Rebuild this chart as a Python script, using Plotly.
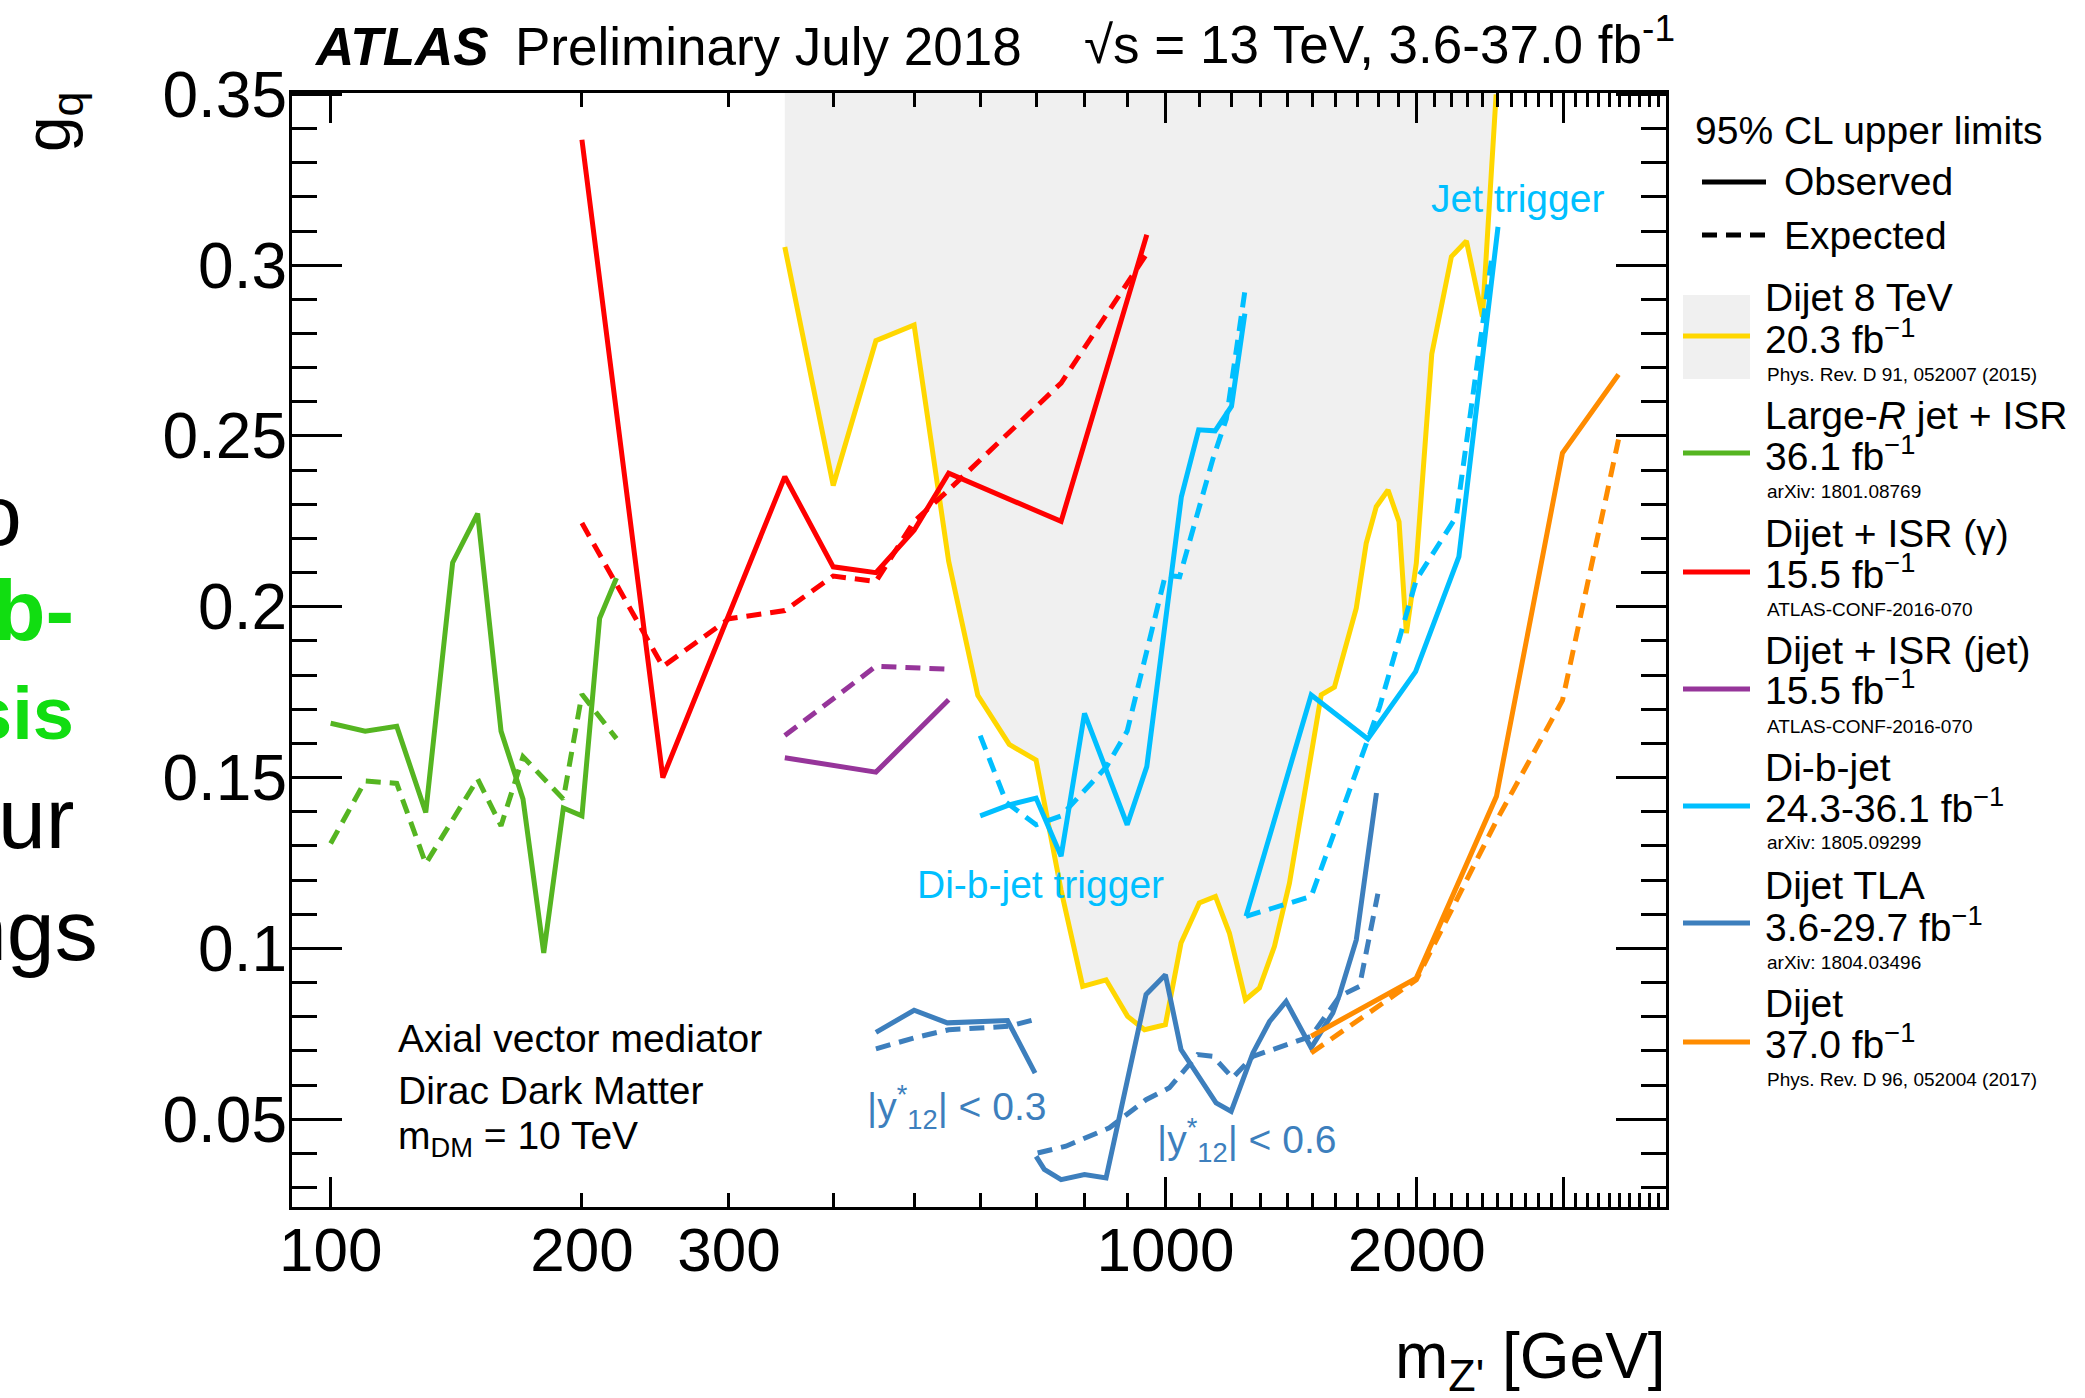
import plotly.graph_objects as go

# ------------------------------------------------------------------ data
# Dijet 8 TeV (observed, with excluded region above it)
dijet8_m = [350, 400, 450, 500, 550, 596, 650, 700, 750, 796,
            849, 901, 944, 1000, 1044, 1098, 1148, 1193, 1247, 1296,
            1351, 1408, 1537, 1594, 1693, 1740, 1789, 1848, 1905, 1944,
            1998, 2085, 2201, 2294, 2398, 2490]
dijet8_obs = [0.3053, 0.2355, 0.2779, 0.2825, 0.2133, 0.1741, 0.1597, 0.1551, 0.1170, 0.0889,
              0.0908, 0.0801, 0.0762, 0.0777, 0.1016, 0.1133, 0.1152, 0.1045, 0.0850, 0.0884,
              0.1006, 0.1191, 0.1742, 0.1765, 0.1996, 0.2186, 0.2293, 0.2342, 0.2249, 0.1923,
              0.2128, 0.2740, 0.3025, 0.3071, 0.2849, 0.3500]

# Large-R jet + ISR
lrj_m = [100, 110, 120, 130, 140, 150, 160, 170, 180, 190, 200, 210, 220]
lrj_obs = [0.1659, 0.1636, 0.1650, 0.1398, 0.2129, 0.2273, 0.1636, 0.1437, 0.0987, 0.1411, 0.1388, 0.1966, 0.2084]
lrj_exp_m = [100, 110, 120, 130, 150, 160, 170, 190, 200, 220]
lrj_exp = [0.1307, 0.1490, 0.1483, 0.1248, 0.1496, 0.1359, 0.1561, 0.1437, 0.1744, 0.1614]

# Dijet + ISR (gamma)
isrg_m = [200, 250, 350, 400, 450, 500, 550, 750, 950]
isrg_obs = [0.3367, 0.1500, 0.2381, 0.2117, 0.2100, 0.2224, 0.2391, 0.2250, 0.3089]
isrg_exp_m = [200, 250, 300, 350, 400, 450, 500, 550, 750, 950]
isrg_exp = [0.2245, 0.1825, 0.1965, 0.1989, 0.2090, 0.2074, 0.2250, 0.2342, 0.2655, 0.3034]

# Dijet + ISR (jet)
isrj_m = [350, 450, 550]
isrj_obs = [0.1558, 0.1516, 0.1728]
isrj_exp = [0.1623, 0.1826, 0.1817]

# Di-b-jet, di-b-jet trigger
bbl_m = [600, 650, 700, 750, 800, 900, 950, 1045, 1096, 1147, 1200, 1245]
bbl_obs = [0.1388, 0.1420, 0.1440, 0.1270, 0.1688, 0.1362, 0.1532, 0.2322, 0.2518, 0.2515, 0.2587, 0.2858]
bbl_exp_m = [600, 645, 700, 750, 850, 900, 1000, 1040, 1140, 1183, 1245]
bbl_exp = [0.1623, 0.1427, 0.1362, 0.1388, 0.1532, 0.1636, 0.2093, 0.2088, 0.2433, 0.2550, 0.2923]

# Di-b-jet, jet trigger
bbh_m = [1249, 1495, 1748, 1994, 2247, 2503]
bbh_obs = [0.1094, 0.1742, 0.1613, 0.1810, 0.2147, 0.3112]
bbh_exp_m = [1249, 1495, 1806, 1998, 2231, 2458]
bbh_exp = [0.1094, 0.1152, 0.1708, 0.2079, 0.2264, 0.3015]

# Dijet TLA |y*12| < 0.3
tla03_m = [450, 500, 548, 647, 698]
tla03_obs = [0.0754, 0.0819, 0.0782, 0.0789, 0.0635]
tla03_exp_m = [450, 500, 550, 650, 700]
tla03_exp = [0.0706, 0.0738, 0.0762, 0.0772, 0.0793]

# Dijet TLA |y*12| < 0.6
tla06_m = [700, 716, 750, 800, 849, 948, 1000, 1044, 1150, 1199, 1273, 1333, 1395, 1495, 1587, 1617, 1693, 1790]
tla06_obs = [0.0391, 0.0353, 0.0323, 0.0338, 0.0328, 0.0865, 0.0923, 0.0704, 0.0548, 0.0523,
             0.0694, 0.0786, 0.0845, 0.0709, 0.0811, 0.0865, 0.1025, 0.1455]
tla06_exp_m = [703, 760, 857, 948, 1011, 1093, 1140, 1204, 1273, 1495, 1617, 1708, 1797]
tla06_exp = [0.0401, 0.0421, 0.0475, 0.0557, 0.0592, 0.0689, 0.0684, 0.0621, 0.0684, 0.0743, 0.0860, 0.0889, 0.1160]

# Dijet 37 fb-1
dijet_m = [1495, 1998, 2492, 2990, 3490]
dijet_obs = [0.0743, 0.0913, 0.1445, 0.2450, 0.2680]
dijet_exp_m = [1495, 1998, 2500, 2990, 3490]
dijet_exp = [0.0694, 0.0908, 0.1380, 0.1726, 0.2490]

x_label_vals = [100, 200, 300, 1000, 2000]
x_label_text = ["100", "200", "300", "1000", "2000"]
y_tick_vals = [0.05, 0.1, 0.15, 0.2, 0.25, 0.3, 0.35]
y_tick_text = ["0.05", "0.1", "0.15", "0.2", "0.25", "0.3", "0.35"]

# ------------------------------------------------------------------ style
FONT = "Liberation Sans, Arial, Helvetica, sans-serif"
X_RANGE = [1.9537, 3.5997]
Y_RANGE = [0.0243, 0.3504]
C = dict(yellow="#FFD700", green="#55B521", red="#FF0000", purple="#96359A",
         sky="#00BFFF", steel="#3D7FBD", orange="#FF8C00", grey="#F0F0F0")
LW = 5
DASH = "15px,9px"

L, R, T, B = 292, 1666, 93, 1207


def px(x):
    return (x - L) / (R - L)


def py(y):
    return (B - y) / (B - T)


fig = go.Figure()

# excluded region (Dijet 8 TeV)
fig.add_trace(go.Scatter(
    x=[dijet8_m[0]] + dijet8_m + [dijet8_m[-1]],
    y=[Y_RANGE[1]] + dijet8_obs + [Y_RANGE[1]],
    mode="lines", fill="toself", fillcolor=C["grey"], line=dict(width=0),
    hoverinfo="skip", showlegend=False))


def curve(x, y, color, dash=False):
    fig.add_trace(go.Scatter(
        x=x, y=y, mode="lines",
        line=dict(color=color, width=LW, dash=DASH if dash else "solid"),
        hoverinfo="skip", showlegend=False))


curve(dijet8_m, dijet8_obs, C["yellow"])
curve(lrj_exp_m, lrj_exp, C["green"], True)
curve(lrj_m, lrj_obs, C["green"])
curve(isrg_exp_m, isrg_exp, C["red"], True)
curve(isrg_m, isrg_obs, C["red"])
curve(isrj_m, isrj_exp, C["purple"], True)
curve(isrj_m, isrj_obs, C["purple"])
curve(bbl_exp_m, bbl_exp, C["sky"], True)
curve(bbl_m, bbl_obs, C["sky"])
curve(bbh_exp_m, bbh_exp, C["sky"], True)
curve(bbh_m, bbh_obs, C["sky"])
curve(tla03_exp_m, tla03_exp, C["steel"], True)
curve(tla03_m, tla03_obs, C["steel"])
curve(tla06_exp_m, tla06_exp, C["steel"], True)
curve(tla06_m, tla06_obs, C["steel"])
curve(dijet_exp_m, dijet_exp, C["orange"], True)
curve(dijet_m, dijet_obs, C["orange"])

# invisible traces carrying the label axes
fig.add_trace(go.Scatter(x=[200], y=[0.3], xaxis="x2", yaxis="y", mode="markers",
                         marker=dict(opacity=0), hoverinfo="skip", showlegend=False))
fig.add_trace(go.Scatter(x=[200], y=[0.3], xaxis="x", yaxis="y2", mode="markers",
                         marker=dict(opacity=0), hoverinfo="skip", showlegend=False))

minor_x = sorted(set([v for v in range(200, 1000, 100)] +
                     [v for v in range(1100, 4000, 100) if v % 1000 != 0]))
minor_y = [round(0.01 * k, 2) for k in range(3, 36) if k % 5 != 0]

axis_common = dict(showgrid=False, zeroline=False, showline=True, linewidth=3,
                   linecolor="black", mirror="ticks", ticks="inside",
                   tickcolor="black", tickwidth=3, showticklabels=False)
label_axis = dict(ticks="", showline=False, showgrid=False, zeroline=False)

fig.update_layout(
    width=2085, height=1398,
    margin=dict(l=L, r=2085 - R, t=T, b=1398 - B, pad=0),
    paper_bgcolor="white", plot_bgcolor="white", showlegend=False,
    font=dict(family=FONT, color="black"),
    xaxis=dict(type="log", range=X_RANGE, tickvals=[100, 1000, 2000, 3000], ticklen=30,
               minor=dict(tickvals=minor_x, ticks="inside", ticklen=14,
                          tickwidth=2.5, tickcolor="black", showgrid=False),
               **axis_common),
    xaxis2=dict(type="log", range=X_RANGE, overlaying="x", anchor="y", side="bottom",
                tickvals=x_label_vals, ticktext=x_label_text,
                tickfont=dict(size=62), ticklabelstandoff=1, **label_axis),
    yaxis=dict(range=Y_RANGE, tickvals=y_tick_vals, ticklen=50,
               minor=dict(tickvals=minor_y, ticks="inside", ticklen=25,
                          tickwidth=2.5, tickcolor="black", showgrid=False),
               **axis_common),
    yaxis2=dict(range=Y_RANGE, overlaying="y", anchor="x", side="left",
                tickvals=y_tick_vals, ticktext=y_tick_text,
                tickfont=dict(size=64), ticklabelstandoff=4, **label_axis),
)

annotations = []


def ann(text, x, y, size, color="black", xanchor="left", yanchor="middle", **kw):
    annotations.append(dict(text=text, x=px(x), y=py(y), xref="paper", yref="paper",
                            xanchor=xanchor, yanchor=yanchor, showarrow=False,
                            font=dict(family=FONT, size=size, color=color), **kw))


# header
ann("<b><i>ATLAS</i></b>", 312, 46, 53)
ann("Preliminary July 2018", 513, 46, 53)
ann("√s = 13 TeV, 3.6-37.0 fb<sup>-1</sup>", 1082, 40, 53)

# axis titles
ann("g<sub>q</sub>", 52, 122, 64, xanchor="center", textangle=-90)
ann("m<sub>Z'</sub> [GeV]", 1668, 1360, 64, xanchor="right")

# in-plot labels
ann("Jet trigger", 1429, 199, 39, C["sky"])
ann("Di-b-jet trigger", 915, 884, 39, C["sky"])
ann("|y<sup>*</sup><sub>12</sub>| < 0.3", 865, 1107, 39, C["steel"])
ann("|y<sup>*</sup><sub>12</sub>| < 0.6", 1155, 1140, 39, C["steel"])
ann("Axial vector mediator", 396, 1038, 39)
ann("Dirac Dark Matter", 396, 1090, 39)
ann("m<sub>DM</sub> = 10 TeV", 396, 1138, 39)

# legend
ann("95% CL upper limits", 1693, 130, 39)
ann("Observed", 1782, 182, 39)
ann("Expected", 1782, 235, 39)

shapes = [
    dict(type="line", xref="paper", yref="paper", x0=px(1702), x1=px(1766), y0=py(182), y1=py(182),
         line=dict(color="black", width=5)),
    dict(type="line", xref="paper", yref="paper", x0=px(1702), x1=px(1766), y0=py(235), y1=py(235),
         line=dict(color="black", width=5, dash=DASH)),
    dict(type="rect", xref="paper", yref="paper", x0=px(1683), x1=px(1750), y0=py(379), y1=py(295),
         fillcolor=C["grey"], line=dict(width=0), layer="below"),
]

entries = [
    ("Dijet 8 TeV", "20.3 fb<sup>−1</sup>", "Phys. Rev. D 91, 052007 (2015)", C["yellow"], 298, 336),
    ("Large-<i>R</i> jet + ISR", "36.1 fb<sup>−1</sup>", "arXiv: 1801.08769", C["green"], 415, 453),
    ("Dijet + ISR (γ)", "15.5 fb<sup>−1</sup>", "ATLAS-CONF-2016-070", C["red"], 533, 572),
    ("Dijet + ISR (jet)", "15.5 fb<sup>−1</sup>", "ATLAS-CONF-2016-070", C["purple"], 650, 689),
    ("Di-b-jet", "24.3-36.1 fb<sup>−1</sup>", "arXiv: 1805.09299", C["sky"], 767, 806),
    ("Dijet TLA", "3.6-29.7 fb<sup>−1</sup>", "arXiv: 1804.03496", C["steel"], 886, 923),
    ("Dijet", "37.0 fb<sup>−1</sup>", "Phys. Rev. D 96, 052004 (2017)", C["orange"], 1003, 1042),
]
for name, lumi, ref, col, ytop, yline in entries:
    ann(name, 1763, ytop, 39)
    ann(lumi, 1763, ytop + 38, 39)
    ann(ref, 1765, ytop + 76, 19)
    shapes.append(dict(type="line", xref="paper", yref="paper", x0=px(1683), x1=px(1750),
                       y0=py(yline), y1=py(yline), line=dict(color=col, width=5)))

# fragments of the slide behind the chart (left edge)
ann("o", 24, 515, 86, xanchor="right")
ann("<b>b-</b>", 76, 610, 86, "#11DD11", xanchor="right")
ann("<b>sis</b>", 76, 714, 74, "#11DD11", xanchor="right")
ann("ur", 76, 818, 86, xanchor="right")
ann("ngs", 100, 930, 86, xanchor="right")

fig.update_layout(annotations=annotations, shapes=shapes)

fig.write_html("out.html", config=dict(displayModeBar=False),
               post_script="document.body.style.margin='0';")
